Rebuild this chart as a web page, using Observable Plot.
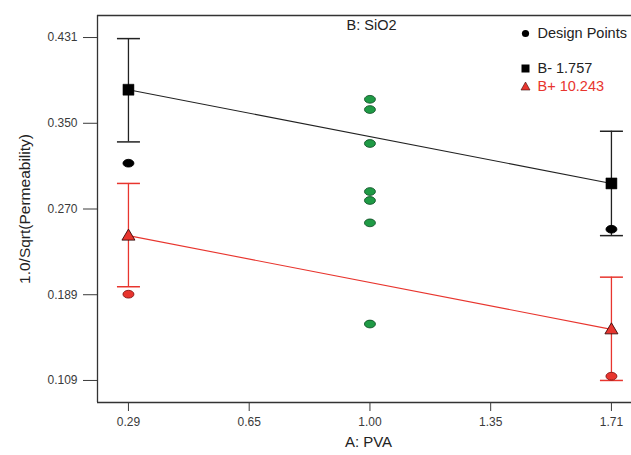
<!DOCTYPE html>
<html>
<head>
<meta charset="utf-8">
<script src="https://cdn.jsdelivr.net/npm/d3@7"></script>
<script src="https://cdn.jsdelivr.net/npm/@observablehq/plot@0.6"></script>
<style>
  html, body { margin: 0; padding: 0; background: #fff; }
  #chart svg { display: block; }
</style>
</head>
<body>
<div id="chart"></div>
<script>
// ---- data ----
const xTicks = [0.29, 0.645, 1.00, 1.355, 1.71];
const xTickLabels = ["0.29", "0.65", "1.00", "1.35", "1.71"];
const yTicks = [0.109, 0.1895, 0.270, 0.3505, 0.431];
const yTickLabels = ["0.109", "0.189", "0.270", "0.350", "0.431"];

const levelsA = [0.29, 1.71];
const bMinusMean = [0.382, 0.294];
const bMinusLow = [0.333, 0.245];
const bMinusHigh = [0.430, 0.343];
const bPlusMean = [0.245, 0.157];
const bPlusLow = [0.197, 0.109];
const bPlusHigh = [0.294, 0.206];

const designA = [0.29, 1.71, 0.29, 1.71, 1.00, 1.00, 1.00, 1.00, 1.00, 1.00, 1.00];
const designY = [0.313, 0.251, 0.190, 0.113, 0.373, 0.3634, 0.3315, 0.2864, 0.278, 0.257, 0.162];
const designGroup = ["B-", "B-", "B+", "B+", "C", "C", "C", "C", "C", "C", "C"];

const legendLabels = ["Design Points", "B- 1.757", "B+ 10.243"];

// ---- build tables ----
const meansMinus = levelsA.map((a, i) => ({a, y: bMinusMean[i], lo: bMinusLow[i], hi: bMinusHigh[i]}));
const meansPlus = levelsA.map((a, i) => ({a, y: bPlusMean[i], lo: bPlusLow[i], hi: bPlusHigh[i]}));
const design = designA.map((a, i) => ({a, y: designY[i], g: designGroup[i]}));

const RED = "#e8352e";
const GREEN = "#1f9a45";

const ellipse = {
  draw(ctx) {
    const rx = 5.5, ry = 3.9, k = 0.5523;
    ctx.moveTo(rx, 0);
    ctx.bezierCurveTo(rx, ry * k, rx * k, ry, 0, ry);
    ctx.bezierCurveTo(-rx * k, ry, -rx, ry * k, -rx, 0);
    ctx.bezierCurveTo(-rx, -ry * k, -rx * k, -ry, 0, -ry);
    ctx.bezierCurveTo(rx * k, -ry, rx, -ry * k, rx, 0);
    ctx.closePath();
  }
};
const capLine = {
  draw(ctx) { ctx.moveTo(-11.5, 0); ctx.lineTo(11.5, 0); }
};
const squareSym = {
  draw(ctx) { const s = 5.5; ctx.moveTo(-s, -s); ctx.lineTo(s, -s); ctx.lineTo(s, s); ctx.lineTo(-s, s); ctx.closePath(); }
};
const triSym = {
  draw(ctx) { ctx.moveTo(0, -6.5); ctx.lineTo(6.5, 4.5); ctx.lineTo(-6.5, 4.5); ctx.closePath(); }
};
const smallSquare = {
  draw(ctx) { const s = 4; ctx.moveTo(-s, -s); ctx.lineTo(s, -s); ctx.lineTo(s, s); ctx.lineTo(-s, s); ctx.closePath(); }
};
const smallTri = {
  draw(ctx) { ctx.moveTo(0, -4.5); ctx.lineTo(4.5, 3.5); ctx.lineTo(-4.5, 3.5); ctx.closePath(); }
};
const smallDot = {
  draw(ctx) { ctx.arc(0, 0, 3.6, 0, 2 * Math.PI); }
};

const xDomain = [0.199, 1.769];
const yDomain = [0.0883, 0.4517];

const txt = {fill: "#222", lineAnchor: "middle", fontSize: 14.5};

const chart = Plot.plot({
  width: 631,
  height: 455,
  marginLeft: 97,
  marginRight: 0,
  marginTop: 15,
  marginBottom: 53,
  style: {fontFamily: "'Liberation Sans', Arial, sans-serif", background: "#fff"},
  x: {domain: xDomain},
  y: {domain: yDomain},
  marks: [
    // frame lines
    Plot.ruleX([xDomain[0]], {stroke: "#333", strokeWidth: 1.3}),
    Plot.ruleY([yDomain[0]], {stroke: "#333", strokeWidth: 1.3}),
    Plot.ruleY([yDomain[1]], {stroke: "#333", strokeWidth: 1.3}),
    // axes
    Plot.axisY({ticks: yTicks, tickFormat: (d, i) => yTickLabels[i], tickSize: 14, tickPadding: 6, fontSize: 12, color: "#3a3a3a", label: null}),
    Plot.axisX({ticks: xTicks, tickFormat: (d, i) => xTickLabels[i], tickSize: 9, tickPadding: 6, fontSize: 12, color: "#3a3a3a", label: null}),
    // axis titles
    Plot.text(["1.0/Sqrt(Permeability)"], {...txt, fontSize: 15.5, frameAnchor: "left", textAnchor: "middle", dx: -72, rotate: -90}),
    Plot.text(["A: PVA"], {...txt, fontSize: 15, frameAnchor: "bottom", dx: 4, dy: 40}),
    Plot.text(["B: SiO2"], {...txt, frameAnchor: "top", dx: 7, dy: 10}),
    // error bars
    Plot.ruleX(meansMinus, {x: "a", y1: "lo", y2: "hi", stroke: "#222", strokeWidth: 1.3}),
    Plot.dot(meansMinus, {x: "a", y: "lo", symbol: capLine, stroke: "#222", strokeWidth: 1.5, fill: "none"}),
    Plot.dot(meansMinus, {x: "a", y: "hi", symbol: capLine, stroke: "#222", strokeWidth: 1.5, fill: "none"}),
    Plot.ruleX(meansPlus, {x: "a", y1: "lo", y2: "hi", stroke: RED, strokeWidth: 1.3}),
    Plot.dot(meansPlus, {x: "a", y: "lo", symbol: capLine, stroke: RED, strokeWidth: 1.5, fill: "none"}),
    Plot.dot(meansPlus, {x: "a", y: "hi", symbol: capLine, stroke: RED, strokeWidth: 1.5, fill: "none"}),
    // lines
    Plot.line(meansMinus, {x: "a", y: "y", stroke: "#222", strokeWidth: 1.1}),
    Plot.line(meansPlus, {x: "a", y: "y", stroke: RED, strokeWidth: 1.1}),
    // design points
    Plot.dot(design, {
      x: "a", y: "y", symbol: ellipse,
      fill: d => d.g === "B-" ? "#000" : d.g === "B+" ? RED : GREEN,
      stroke: d => d.g === "B-" ? "#000" : d.g === "B+" ? "#7a1010" : "#0b4a22",
      strokeWidth: 0.8
    }),
    // mean markers
    Plot.dot(meansMinus, {x: "a", y: "y", symbol: squareSym, fill: "#000", stroke: "#000", strokeWidth: 0.5}),
    Plot.dot(meansPlus, {x: "a", y: "y", symbol: triSym, fill: RED, stroke: "#3a0a0a", strokeWidth: 0.9}),
    // legend
    Plot.dot([0], {frameAnchor: "top-right", dx: -106, dy: 18, symbol: smallDot, fill: "#000"}),
    Plot.dot([0], {frameAnchor: "top-right", dx: -106, dy: 53, symbol: smallSquare, fill: "#000"}),
    Plot.dot([0], {frameAnchor: "top-right", dx: -106, dy: 71, symbol: smallTri, fill: RED, stroke: "#3a0a0a", strokeWidth: 0.6}),
    Plot.text([legendLabels[0]], {...txt, frameAnchor: "top-right", dx: -94, dy: 18, textAnchor: "start"}),
    Plot.text([legendLabels[1]], {...txt, frameAnchor: "top-right", dx: -94, dy: 53, textAnchor: "start"}),
    Plot.text([legendLabels[2]], {...txt, frameAnchor: "top-right", dx: -94, dy: 71, textAnchor: "start", fill: RED})
  ]
});
document.getElementById("chart").appendChild(chart);
</script>
</body>
</html>
